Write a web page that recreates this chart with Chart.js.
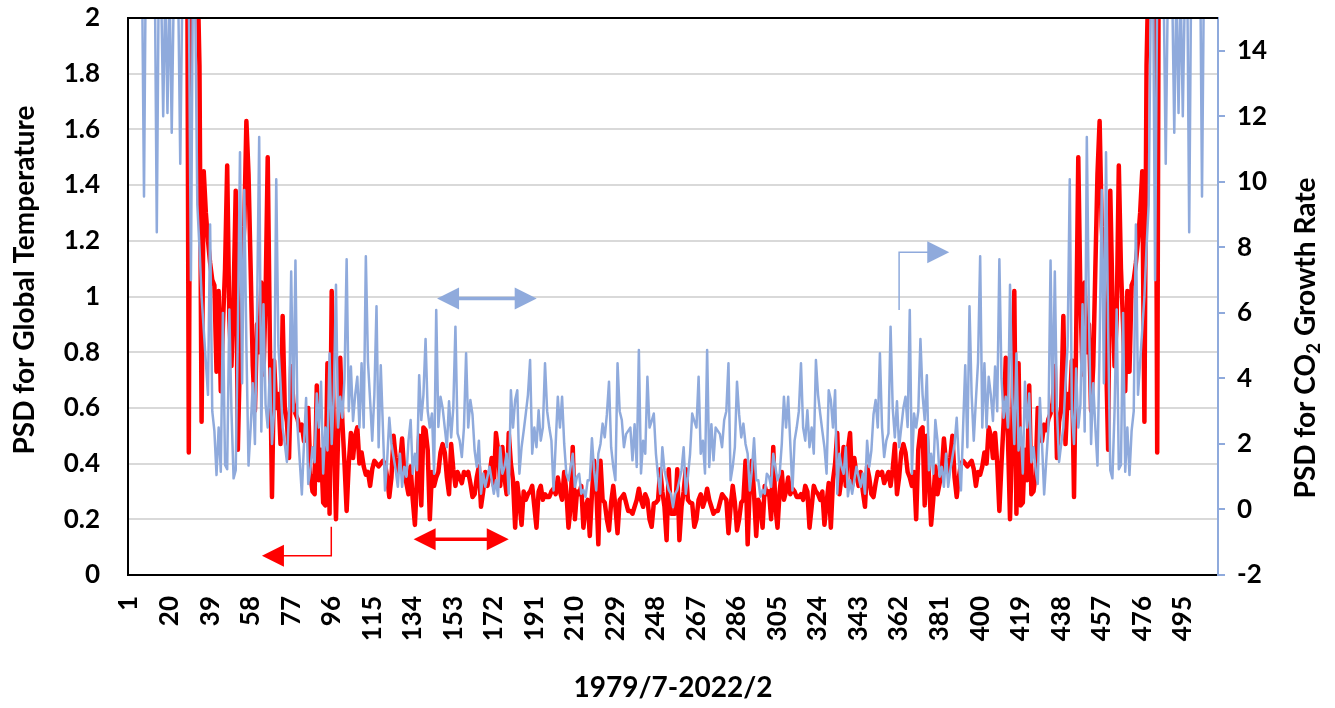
<!DOCTYPE html>
<html>
<head>
<meta charset="utf-8">
<title>PSD 1979/7-2022/2</title>
<script src="https://cdn.jsdelivr.net/npm/chart.js@4.4.1/dist/chart.umd.min.js"></script>
<style>
  html, body { margin: 0; padding: 0; background: #ffffff; }
  #wrap { width: 1335px; height: 708px; }
</style>
</head>
<body>
<div id="wrap"><canvas id="psdChart" width="1335" height="708"></canvas></div>
<script>
// PSD for global temperature (left axis), one value per month index 1..511
var tempPSD = [
  52, 30, 18, 12, 9, 7.5, 6, 5.2, 4.8, 4,
  3.6, 3.3, 3.8, 3.1, 2.9, 3.4, 2.7, 3.2, 2.6, 3,
  2.8, 2.5, 3.1, 2.7, 2.4, 2.9, 2.6, 3, 0.44, 2.6,
  3, 2.4, 2.2, 1.83, 0.55, 1.45, 1.3, 1.2, 1.12, 1.06,
  1.04, 0.73, 1.02, 0.66, 0.9, 1.1, 1.47, 0.92, 0.75, 1,
  1.38, 0.45, 0.8, 1.1, 1.25, 1.63, 1.44, 1.1, 0.75, 0.59,
  0.9, 0.8, 1.05, 0.72, 1, 1.5, 0.85, 0.28, 0.77, 0.6,
  0.65, 0.47, 0.93, 0.6, 0.55, 0.42, 0.75, 0.62, 0.58, 0.56,
  0.52, 0.54, 0.48, 0.5, 0.6, 0.36, 0.3, 0.29, 0.68, 0.34,
  0.45, 0.26, 0.25, 0.76, 0.22, 1.02, 0.49, 0.2, 0.5, 0.78,
  0.55, 0.4, 0.23, 0.4, 0.51, 0.42, 0.5, 0.53, 0.4, 0.44,
  0.39, 0.36, 0.37, 0.32, 0.38, 0.41, 0.4, 0.39, 0.4, 0.41,
  0.4, 0.35, 0.28, 0.35, 0.5, 0.42, 0.37, 0.4, 0.49, 0.37,
  0.33, 0.29, 0.39, 0.27, 0.18, 0.35, 0.5, 0.25, 0.53, 0.52,
  0.45, 0.2, 0.37, 0.32, 0.35, 0.37, 0.44, 0.47, 0.44, 0.35,
  0.29, 0.47, 0.38, 0.32, 0.37, 0.35, 0.33, 0.37, 0.36, 0.37,
  0.33, 0.28, 0.29, 0.35, 0.39, 0.245, 0.3, 0.37, 0.32, 0.36,
  0.42, 0.32, 0.51, 0.45, 0.32, 0.46, 0.35, 0.29, 0.51, 0.4,
  0.34, 0.17, 0.33, 0.26, 0.18, 0.3, 0.27, 0.29, 0.3, 0.32,
  0.245, 0.17, 0.3, 0.32, 0.27, 0.29, 0.28, 0.28, 0.3, 0.31,
  0.29, 0.35, 0.3, 0.27, 0.37, 0.3, 0.17, 0.245, 0.46, 0.2,
  0.3, 0.29, 0.32, 0.17, 0.245, 0.27, 0.14, 0.29, 0.41, 0.32,
  0.11, 0.41, 0.27, 0.26, 0.2, 0.16, 0.26, 0.32, 0.245, 0.15,
  0.27, 0.28, 0.29, 0.26, 0.23, 0.23, 0.22, 0.245, 0.27, 0.31,
  0.27, 0.245, 0.29, 0.27, 0.2, 0.173, 0.257, 0.26, 0.27, 0.38,
  0.3, 0.245, 0.125, 0.38, 0.22, 0.22,
  0.22, 0.38, 0.125, 0.245, 0.3,
  0.38, 0.27, 0.26, 0.257, 0.173, 0.2, 0.27, 0.29, 0.245, 0.27,
  0.31, 0.27, 0.245, 0.22, 0.23, 0.23, 0.26, 0.29, 0.28, 0.27,
  0.15, 0.245, 0.32, 0.26, 0.16, 0.2, 0.26, 0.27, 0.41, 0.11,
  0.32, 0.41, 0.29, 0.14, 0.27, 0.245, 0.17, 0.32, 0.29, 0.3,
  0.2, 0.46, 0.245, 0.17, 0.3, 0.37, 0.27, 0.3, 0.35, 0.29,
  0.31, 0.3, 0.28, 0.28, 0.29, 0.27, 0.32, 0.3, 0.17, 0.245,
  0.32, 0.3, 0.29, 0.27, 0.3, 0.18, 0.26, 0.33, 0.17, 0.34,
  0.4, 0.51, 0.29, 0.35, 0.46, 0.32, 0.45, 0.51, 0.32, 0.42,
  0.36, 0.32, 0.37, 0.3, 0.245, 0.39, 0.35, 0.29, 0.28, 0.33,
  0.37, 0.36, 0.37, 0.33, 0.35, 0.37, 0.32, 0.38, 0.47, 0.29,
  0.35, 0.44, 0.47, 0.44, 0.37, 0.35, 0.32, 0.37, 0.2, 0.45,
  0.52, 0.53, 0.25, 0.5, 0.35, 0.18, 0.27, 0.39, 0.29, 0.33,
  0.37, 0.49, 0.4, 0.37, 0.42, 0.5, 0.35, 0.28, 0.35, 0.4,
  0.41, 0.4, 0.39, 0.4, 0.41, 0.38, 0.32, 0.37, 0.36, 0.39,
  0.44, 0.4, 0.53, 0.5, 0.42, 0.51, 0.4, 0.23, 0.4, 0.55,
  0.78, 0.5, 0.2, 0.49, 1.02, 0.22, 0.76, 0.25, 0.26, 0.45,
  0.34, 0.68, 0.29, 0.3, 0.36, 0.6, 0.5, 0.48, 0.54, 0.52,
  0.56, 0.58, 0.62, 0.75, 0.42, 0.55, 0.6, 0.93, 0.47, 0.65,
  0.6, 0.77, 0.28, 0.85, 1.5, 1, 0.72, 1.05, 0.8, 0.9,
  0.59, 0.75, 1.1, 1.44, 1.63, 1.25, 1.1, 0.8, 0.45, 1.38,
  1, 0.75, 0.92, 1.47, 1.1, 0.9, 0.66, 1.02, 0.73, 1.04,
  1.06, 1.12, 1.2, 1.3, 1.45, 0.55, 1.83, 2.2, 2.4, 3,
  2.6, 0.44, 3, 2.6, 2.9, 2.4, 2.7, 3.1, 2.5, 2.8,
  3, 2.6, 3.2, 2.7, 3.4, 2.9, 3.1, 3.8, 3.3, 3.6,
  4, 4.8, 5.2, 6, 7.5, 9, 12, 18, 30, 52
];

// PSD for CO2 growth rate (right axis)
var co2PSD = [
  60, 45, 30, 25, 21, 18, 17, 9.55, 18, 17,
  19, 16.5, 17, 8.46, 17, 16, 12, 16, 12.1, 16,
  11.5, 16, 17, 16, 10.55, 16, 17, 16.5, 16, 7,
  17, 15.5, 9.3, 8, 6.5, 5.5, 4.5, 3.5, 8.7, 3,
  2.4, 1.05, 2.5, 1.15, 6, 1.36, 1.23, 6.1, 3, 0.95,
  1.2, 5.5, 10.9, 3.85, 9.75, 5, 1.34, 2.5, 3.85, 2,
  6, 11.37, 2.38, 6.26, 3.2, 2.5, 4.3, 2, 3, 10.08,
  5, 3.85, 2.5, 2, 1.45, 3, 7.26, 3, 7.6, 2.5,
  1.5, 0.46, 2, 3.4, 0.78, 1.2, 1.9, 1.44, 3.54, 2.5,
  3.9, 1.1, 2.5, 1.8, 4.76, 2, 3.5, 6.86, 2.5, 3.44,
  2.8, 4, 7.64, 3, 4.36, 2.7, 3.5, 4.05, 2.5, 4.46,
  2.5, 7.73, 4.5, 3.34, 2.1, 3.5, 6.2, 1.9, 4.4, 2.5,
  0.58, 1.5, 2.8, 2, 1.6, 1.2, 0.69, 1.7, 0.69, 1.3,
  1, 2.1, 2.73, 1.09, 1.7, 1.2, 4.1, 2.73, 3.5, 5.2,
  3, 2.5, 2.93, 1.09, 6.09, 2.52, 3.44, 3.1, 2.5, 1.9,
  3.3, 2.2, 3.1, 5.58, 2.32, 2.1, 1.6, 2.5, 4.77, 2.5,
  3.34, 2.9, 1.8, 1.3, 2.1, 0.48, 1.1, 0.69, 1, 1.3,
  0.9, 0.48, 0.89, 0.4, 1.9, 1.09, 1.3, 1.7, 0.48, 3.64,
  2.5, 3.34, 3.64, 1.09, 1.9, 2.4, 2.93, 3.5, 4.56, 1.7,
  2.5, 1.9, 3.03, 2.1, 2.5, 4.46, 3, 2.5, 2.1, 0.58,
  2, 3.44, 2.5, 3.44, 2, 1.09, 0.89, 1.3, 1.7, 0.69,
  1, 1.09, 0.48, 0.6, 0.38, 0.89, 0.89, 2.17, 1.2, 0.58,
  1.7, 2, 2.62, 2.2, 2.9, 3.9, 1.9, 1.3, 0.89, 4.46,
  3, 2.73, 1.9, 2.3, 2.4, 2.5, 1.5, 2.6, 1.3, 4.87,
  1.1, 2.1, 1.7, 4.05, 2.5, 2.7, 2.93, 1.7, 1, 0.48,
  1.9, 1.2, 0.89, 0.6, 0.48, 0.07,
  0.48, 0.6, 0.89, 1.2, 1.9,
  0.48, 1, 1.7, 2.93, 2.7, 2.5, 4.05, 1.7, 2.1, 1.1,
  4.87, 1.3, 2.6, 1.5, 2.5, 2.4, 2.3, 1.9, 2.73, 3,
  4.46, 0.89, 1.3, 1.9, 3.9, 2.9, 2.2, 2.62, 2, 1.7,
  0.58, 1.2, 2.17, 0.89, 0.89, 0.38, 0.6, 0.48, 1.09, 1,
  0.69, 1.7, 1.3, 0.89, 1.09, 2, 3.44, 2.5, 3.44, 2,
  0.58, 2.1, 2.5, 3, 4.46, 2.5, 2.1, 3.03, 1.9, 2.5,
  1.7, 4.56, 3.5, 2.93, 2.4, 1.9, 1.09, 3.64, 3.34, 2.5,
  3.64, 0.48, 1.7, 1.3, 1.09, 1.9, 0.4, 0.89, 0.48, 0.9,
  1.3, 1, 0.69, 1.1, 0.48, 2.1, 1.3, 1.8, 2.9, 3.34,
  2.5, 4.77, 2.5, 1.6, 2.1, 2.32, 5.58, 3.1, 2.2, 3.3,
  1.9, 2.5, 3.1, 3.44, 2.52, 6.09, 1.09, 2.93, 2.5, 3,
  5.2, 3.5, 2.73, 4.1, 1.2, 1.7, 1.09, 2.73, 2.1, 1,
  1.3, 0.69, 1.7, 0.69, 1.2, 1.6, 2, 2.8, 1.5, 0.58,
  2.5, 4.4, 1.9, 6.2, 3.5, 2.1, 3.34, 4.5, 7.73, 2.5,
  4.46, 2.5, 4.05, 3.5, 2.7, 4.36, 3, 7.64, 4, 2.8,
  3.44, 2.5, 6.86, 3.5, 2, 4.76, 1.8, 2.5, 1.1, 3.9,
  2.5, 3.54, 1.44, 1.9, 1.2, 0.78, 3.4, 2, 0.46, 1.5,
  2.5, 7.6, 3, 7.26, 3, 1.45, 2, 2.5, 3.85, 5,
  10.08, 3, 2, 4.3, 2.5, 3.2, 6.26, 2.38, 11.37, 6,
  2, 3.85, 2.5, 1.34, 5, 9.75, 3.85, 10.9, 5.5, 1.2,
  0.95, 3, 6.1, 1.23, 1.36, 6, 1.15, 2.5, 1.05, 2.4,
  3, 8.7, 3.5, 4.5, 5.5, 6.5, 8, 9.3, 15.5, 17,
  7, 16, 16.5, 17, 16, 10.55, 16, 17, 16, 11.5,
  16, 12.1, 16, 12, 16, 17, 8.46, 17, 16.5, 19,
  17, 18, 9.55, 17, 18, 21, 25, 30, 45, 60
];

// month index labels 1..511, shown every 19th
var months = [];
for (var m = 1; m <= tempPSD.length; m++) months.push(String(m));
var labelStep = 19;

var leftTicks = [0, 0.2, 0.4, 0.6, 0.8, 1, 1.2, 1.4, 1.6, 1.8, 2];
var rightTicks = [-2, 0, 2, 4, 6, 8, 10, 12, 14];

var RED = '#ff0000';
var BLUE = '#8faadc';
var FONT = "Lato, 'Open Sans', sans-serif";

// arrows drawn on top, in data units (category index, left-axis value)
var arrows = [
  { color: RED, width: 1.5, pts: [[94.8, 0.173], [94.8, 0.069], [62.3, 0.069]], heads: 'end' },
  { color: RED, width: 3.5, pts: [[133.4, 0.128], [178.0, 0.128]], heads: 'both' },
  { color: BLUE, width: 3.5, pts: [[144.4, 0.993], [191.1, 0.993]], heads: 'both' },
  { color: BLUE, width: 1.5, pts: [[361.0, 0.9515], [361.0, 1.1587], [384.5, 1.1587]], heads: 'end' }
];

function drawHead(ctx, x0, y0, x1, y1, color) {
  var a = Math.atan2(y1 - y0, x1 - x0);
  ctx.save();
  ctx.translate(x1, y1);
  ctx.rotate(a);
  ctx.beginPath();
  ctx.moveTo(0, 0);
  ctx.lineTo(-22, -11);
  ctx.lineTo(-22, 11);
  ctx.closePath();
  ctx.fillStyle = color;
  ctx.fill();
  ctx.restore();
}

// pull a point back along a segment so the shaft stops at the head base
function backOff(x0, y0, x1, y1, d) {
  var len = Math.hypot(x1 - x0, y1 - y0);
  return [x1 - (x1 - x0) / len * d, y1 - (y1 - y0) / len * d];
}

// keep the plot box where the reference has it (label padding would push it down)
function noPad(scale) {
  scale.paddingTop = 0;
  scale.paddingBottom = 0;
  scale.paddingLeft = 0;
  scale.paddingRight = 0;
}

var extras = {
  id: 'extras',
  afterDraw: function(chart) {
    var ctx = chart.ctx;
    var area = chart.chartArea;
    var xs = chart.scales.x, ys = chart.scales.y;

    // top edge of the plot frame
    ctx.save();
    ctx.strokeStyle = '#000000';
    ctx.lineWidth = 2;
    ctx.beginPath();
    ctx.moveTo(area.left - 1, area.top);
    ctx.lineTo(area.right, area.top);
    ctx.stroke();
    ctx.restore();

    arrows.forEach(function(ar) {
      var p = ar.pts.map(function(d) { return [xs.getPixelForValue(d[0]), ys.getPixelForValue(d[1])]; });
      var n = p.length;
      var q = p.map(function(pt) { return pt.slice(); });
      q[n - 1] = backOff(p[n - 2][0], p[n - 2][1], p[n - 1][0], p[n - 1][1], 20);
      if (ar.heads === 'both') q[0] = backOff(p[1][0], p[1][1], p[0][0], p[0][1], 20);
      ctx.save();
      ctx.strokeStyle = ar.color;
      ctx.lineWidth = ar.width;
      ctx.lineJoin = 'miter';
      ctx.beginPath();
      ctx.moveTo(q[0][0], q[0][1]);
      for (var k = 1; k < n; k++) ctx.lineTo(q[k][0], q[k][1]);
      ctx.stroke();
      drawHead(ctx, p[n - 2][0], p[n - 2][1], p[n - 1][0], p[n - 1][1], ar.color);
      if (ar.heads === 'both') drawHead(ctx, p[1][0], p[1][1], p[0][0], p[0][1], ar.color);
      ctx.restore();
    });

    // axis titles
    ctx.save();
    ctx.fillStyle = '#000000';
    ctx.font = 'bold 28px ' + FONT;
    ctx.textAlign = 'center';
    ctx.textBaseline = 'middle';
    ctx.fillText('1979/7-2022/2', (area.left + area.right) / 2, 688);

    ctx.save();
    ctx.translate(25, 280);
    ctx.rotate(-Math.PI / 2);
    ctx.fillText('PSD for Global Temperature', 0, 0);
    ctx.restore();

    // right title with subscript 2
    ctx.save();
    ctx.translate(1306, 338);
    ctx.rotate(-Math.PI / 2);
    ctx.textAlign = 'left';
    var t1 = 'PSD for CO', t2 = '2', t3 = ' Growth Rate';
    ctx.font = 'bold 28px ' + FONT;
    var w1 = ctx.measureText(t1).width, w3 = ctx.measureText(t3).width;
    ctx.font = 'bold 19px ' + FONT;
    var w2 = ctx.measureText(t2).width;
    var x0 = -(w1 + w2 + w3) / 2;
    ctx.font = 'bold 28px ' + FONT;
    ctx.fillText(t1, x0, 0);
    ctx.font = 'bold 19px ' + FONT;
    ctx.fillText(t2, x0 + w1, 8);
    ctx.font = 'bold 28px ' + FONT;
    ctx.fillText(t3, x0 + w1 + w2, 0);
    ctx.restore();
    ctx.restore();
  }
};

var tickFont = { family: FONT, size: 26, weight: 'bold' };

var ctx = document.getElementById('psdChart').getContext('2d');
var psdChart = new Chart(ctx, {
  type: 'line',
  data: {
    labels: months,
    datasets: [
      {
        label: 'PSD for CO2 Growth Rate',
        data: co2PSD,
        yAxisID: 'y1',
        borderColor: BLUE,
        borderWidth: 2.5,
        pointRadius: 0,
        tension: 0,
        borderJoinStyle: 'round',
        clip: 0,
        order: 0
      },
      {
        label: 'PSD for Global Temperature',
        data: tempPSD,
        yAxisID: 'y',
        borderColor: RED,
        borderWidth: 4.5,
        pointRadius: 0,
        tension: 0,
        borderJoinStyle: 'round',
        clip: 0,
        order: 1
      }
    ]
  },
  options: {
    responsive: false,
    animation: false,
    devicePixelRatio: 1,
    layout: { padding: { top: 18, left: 0, right: 0, bottom: 0 } },
    plugins: {
      legend: { display: false },
      tooltip: { enabled: false }
    },
    scales: {
      x: {
        type: 'category',
        offset: true,
        grid: { display: false, drawTicks: false },
        border: { display: true, color: '#000000', width: 2 },
        ticks: {
          autoSkip: false,
          minRotation: 90,
          maxRotation: 90,
          padding: 21,
          color: '#000000',
          font: tickFont
        },
        afterBuildTicks: function(scale) {
          scale.ticks = scale.ticks.filter(function(t) { return t.value % labelStep === 0; });
        },
        afterFit: function(scale) { scale.height = 133; noPad(scale); }
      },
      y: {
        position: 'left',
        min: 0,
        max: 2,
        grid: {
          drawTicks: false,
          lineWidth: 2,
          color: function(c) {
            var v = c.tick ? c.tick.value : null;
            return (v === 0 || v === 2) ? 'rgba(0,0,0,0)' : '#d9d9d9';
          }
        },
        border: { display: true, color: '#000000', width: 2 },
        ticks: {
          padding: 28,
          color: '#000000',
          font: tickFont,
          callback: function(v) { return String(Math.round(v * 10) / 10); }
        },
        afterBuildTicks: function(scale) {
          scale.ticks = leftTicks.map(function(v) { return { value: v }; });
        },
        afterFit: function(scale) { scale.width = 128; noPad(scale); }
      },
      y1: {
        position: 'right',
        min: -2,
        max: 15,
        grid: { drawOnChartArea: false, drawTicks: true, tickLength: 7, lineWidth: 2, color: BLUE },
        border: { display: true, color: BLUE, width: 2 },
        ticks: {
          padding: 12,
          color: '#000000',
          font: tickFont,
          callback: function(v) { return String(v); }
        },
        afterBuildTicks: function(scale) {
          scale.ticks = rightTicks.map(function(v) { return { value: v }; });
        },
        afterFit: function(scale) { scale.width = 117; noPad(scale); }
      }
    }
  },
  plugins: [extras]
});
</script>
</body>
</html>
